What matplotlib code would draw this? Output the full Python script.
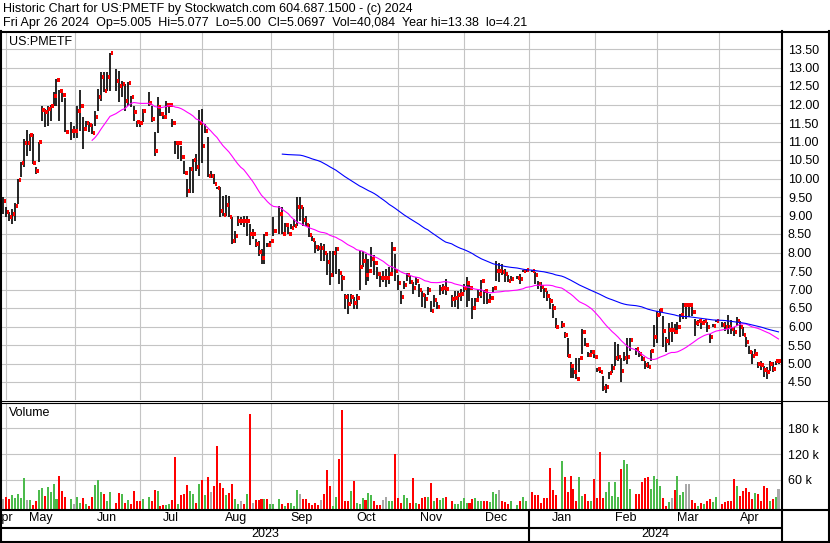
import numpy as np
import pandas as pd
import matplotlib
matplotlib.use("Agg")
import matplotlib.pyplot as plt
import matplotlib.ticker as ticker
from matplotlib.lines import Line2D

plt.rcParams["font.family"] = ["Liberation Sans", "DejaVu Sans"]

TITLE = "Historic Chart for US:PMETF by Stockwatch.com 604.687.1500 - (c) 2024"
SUBTITLE = ("Fri Apr 26 2024  Op=5.005  Hi=5.077  Lo=5.00  Cl=5.0697  "
            "Vol=40,084  Year hi=13.38  lo=4.21")
SYMBOL = "US:PMETF"

# Market holidays inside the range (empty slots on the chart).
HOLIDAYS = ["2023-05-29", "2023-06-19", "2023-07-04", "2023-09-04",
            "2023-11-23", "2023-12-25", "2024-01-01", "2024-01-15",
            "2024-02-19", "2024-03-29"]

high = [
    9.50, 9.22,  # Apr 2023
    9.09, 9.18, 9.33, 9.99, 10.44, 11.07, 11.30, 11.20, 11.20, 10.30, 11.00,
    11.97, 11.88, 11.97, 12.00, 12.33, 12.69, 12.39, 12.30, 12.18, 11.52, 11.43,
    11.97, 12.39, 11.65, 11.56, 11.52, 11.47, 11.82, 12.42, 12.87, 12.87, 12.87,
    13.38, 12.96, 12.91, 12.64, 12.55, 12.60, 12.24, 11.97, 11.56, 11.56,
    11.88, 12.33, 11.97, 11.25, 12.19, 12.00, 11.78, 12.10, 12.00, 11.60,
    11.02, 10.97, 10.88, 10.48, 9.98, 10.30, 10.52, 10.66, 11.85, 11.87,
    11.47, 11.13, 10.20, 10.12, 9.76, 9.77, 9.53, 9.55, 9.53, 8.95, 8.59, 8.99,
    8.95, 8.99, 8.99, 8.77, 8.63, 8.36, 8.32, 8.09, 8.50, 8.27, 8.32,
    8.95, 9.26, 9.22, 8.81, 8.77, 8.77, 8.90, 9.49, 9.49, 9.22,
    8.99, 8.77, 8.45, 8.32, 8.20, 8.27, 8.23, 8.00, 8.05, 8.05,
    8.14, 7.56, 7.38, 6.88, 6.88, 6.88, 6.79, 6.88, 8.05, 8.05, 7.96,
    7.83, 8.14, 7.92, 7.60, 7.47, 7.51, 7.56, 7.60, 8.28, 7.96, 7.38,
    6.97, 7.23, 7.44, 7.38, 7.20, 7.35, 7.15, 6.97, 6.88, 7.06, 6.70,
    6.86, 6.66, 7.11, 7.15, 7.29, 6.84, 6.97, 6.97, 7.02, 7.15,
    7.33, 7.20, 6.78, 6.78, 7.00, 7.26, 7.00, 6.92, 6.87, 7.07,
    7.77, 7.72, 7.68, 7.55, 7.39, 7.36, 7.36, 7.41, 7.54, 7.55,
    7.52, 7.46, 7.23, 7.19, 7.05, 6.96, 6.78, 6.60, 6.24, 6.15, 5.86,
    5.70, 5.05, 5.00, 5.14, 5.16, 5.93, 5.70, 5.32, 5.36, 5.30,
    4.89, 4.89, 4.67, 4.44, 4.78, 4.98, 5.59, 5.52, 5.16, 5.30,
    5.68, 5.69, 5.41, 5.35, 5.21, 5.08, 5.03, 5.37, 6.05, 6.43,
    6.47, 6.29, 5.71, 6.09, 6.11, 6.07, 6.11, 6.34, 6.63, 6.63,
    6.63, 6.61, 6.20, 6.18, 6.16, 6.18, 6.11, 5.80, 6.07, 6.18,
    6.11, 6.11, 6.32, 6.18, 6.00, 6.25, 6.16, 5.98, 5.71, 5.48,
    5.35, 5.39, 5.03, 5.08, 4.94, 4.90, 5.06, 5.03, 5.08, 5.077,
]

low = [
    9.05, 8.95,
    8.86, 8.77, 8.86, 9.30, 10.03, 10.30, 10.62, 10.75, 10.39, 10.12, 10.44,
    11.56, 11.40, 11.43, 11.56, 11.97, 11.97, 11.56, 12.06, 11.27, 11.04, 11.10,
    11.10, 11.29, 10.80, 11.33, 11.25, 11.20, 11.43, 11.83, 12.10, 12.33, 12.37,
    12.37, 12.37, 12.06, 12.19, 11.83, 11.97, 11.92, 11.56, 11.38, 11.40,
    11.52, 11.97, 11.52, 10.62, 11.22, 11.68, 11.60, 11.69, 11.78, 11.38,
    10.66, 10.52, 10.48, 10.12, 9.49, 9.62, 9.60, 10.21, 10.07, 10.43,
    11.24, 10.05, 10.02, 9.86, 9.71, 8.95, 8.99, 8.99, 8.95, 8.24, 8.27, 8.72,
    8.75, 8.68, 8.45, 8.20, 8.36, 8.14, 7.91, 7.68, 7.68, 8.14, 8.27,
    8.45, 8.50, 8.50, 8.50, 8.50, 8.63, 8.68, 8.72, 8.86, 8.72,
    8.72, 8.41, 8.32, 8.00, 8.05, 7.77, 7.78, 7.40, 7.11, 7.35,
    7.42, 7.15, 6.97, 6.48, 6.34, 6.61, 6.48, 6.48, 6.99, 7.60, 7.11,
    7.24, 7.60, 7.38, 7.29, 7.06, 7.20, 7.08, 7.15, 7.47, 7.24, 6.99,
    6.61, 7.02, 7.24, 7.15, 6.88, 7.11, 6.79, 6.52, 6.50, 6.84, 6.39,
    6.52, 6.48, 6.84, 6.88, 6.84, 6.52, 6.52, 6.48, 6.70, 6.93,
    6.52, 6.70, 6.20, 6.50, 6.65, 6.78, 6.60, 6.60, 6.65, 6.92,
    7.23, 7.19, 7.40, 7.19, 7.19, 7.24, 7.28, 7.14, 7.46, 7.48,
    7.46, 7.14, 7.01, 6.92, 6.78, 6.69, 6.47, 6.24, 5.97, 5.97, 5.68,
    5.18, 4.62, 4.60, 4.58, 4.76, 5.27, 5.48, 5.18, 5.23, 5.16,
    4.78, 4.73, 4.26, 4.21, 4.58, 4.73, 4.94, 5.07, 4.49, 5.07,
    4.98, 5.35, 5.23, 5.17, 5.06, 4.84, 4.88, 5.06, 5.44, 5.55,
    6.29, 5.44, 5.30, 5.51, 5.57, 5.80, 5.84, 6.11, 6.20, 6.20,
    6.25, 6.29, 5.75, 6.02, 5.93, 6.07, 5.84, 5.55, 5.98, 6.11,
    5.98, 5.89, 5.80, 5.80, 5.73, 6.02, 5.71, 5.73, 5.44, 5.26,
    4.99, 5.21, 4.88, 4.83, 4.64, 4.58, 4.81, 4.76, 4.97, 5.00,
]

close = [
    9.38, 9.09,
    8.95, 9.03, 9.25, 9.97, 10.41, 10.95, 10.95, 11.18, 10.41, 10.21, 11.00,
    11.86, 11.79, 11.89, 11.97, 12.24, 12.67, 12.37, 12.27, 11.27, 11.29, 11.29,
    11.82, 11.97, 11.33, 11.50, 11.45, 11.22, 11.65, 12.19, 12.73, 12.36, 12.73,
    13.38, 12.64, 12.49, 12.55, 12.10, 12.58, 12.21, 11.79, 11.52, 11.49,
    11.82, 12.04, 11.60, 10.73, 11.94, 11.75, 11.67, 11.98, 12.00, 11.49,
    10.95, 10.97, 10.57, 10.14, 9.65, 10.25, 10.50, 10.30, 11.49, 10.88,
    11.29, 10.07, 10.07, 9.86, 9.73, 9.13, 9.02, 9.29, 8.95, 8.32, 8.44, 8.86,
    8.86, 8.84, 8.86, 8.50, 8.50, 8.24, 8.02, 7.84, 8.50, 8.20, 8.32,
    8.59, 9.04, 8.51, 8.75, 8.51, 8.66, 8.72, 9.24, 9.24, 8.87,
    8.75, 8.47, 8.35, 8.16, 8.13, 8.13, 8.00, 7.74, 7.40, 8.00,
    8.10, 7.44, 7.32, 6.81, 6.60, 6.79, 6.63, 6.77, 7.60, 7.78, 7.40,
    7.51, 7.83, 7.71, 7.42, 7.30, 7.30, 7.30, 7.42, 8.10, 7.50, 7.17,
    6.81, 7.13, 7.38, 7.20, 7.04, 7.22, 6.99, 6.84, 6.75, 6.99, 6.41,
    6.72, 6.52, 7.02, 7.04, 7.02, 6.75, 6.77, 6.86, 6.88, 7.04,
    7.17, 7.04, 6.51, 6.72, 6.89, 7.22, 6.96, 6.69, 6.76, 7.04,
    7.50, 7.50, 7.48, 7.43, 7.23, 7.29, 7.32, 7.28, 7.50, 7.52,
    7.50, 7.40, 7.14, 7.07, 6.98, 6.83, 6.68, 6.50, 5.99, 6.05, 5.77,
    5.21, 4.94, 4.76, 4.59, 5.14, 5.84, 5.50, 5.23, 5.32, 5.18,
    4.85, 4.77, 4.35, 4.37, 4.73, 4.89, 5.16, 5.18, 4.80, 5.16,
    5.18, 5.64, 5.39, 5.26, 5.12, 4.97, 4.90, 5.35, 5.71, 6.32,
    6.45, 5.89, 5.62, 5.91, 5.91, 5.84, 6.00, 6.32, 6.59, 6.59,
    6.59, 6.38, 6.10, 6.14, 6.09, 6.14, 6.00, 5.71, 6.02, 6.16,
    6.05, 6.00, 5.98, 5.93, 5.84, 6.14, 6.00, 5.78, 5.57, 5.30,
    5.19, 5.26, 4.99, 4.97, 4.82, 4.76, 5.00, 4.85, 5.07, 5.0697,
]

# Daily volume, thousands of shares
volume_k = [
    16, 21,
    16, 24, 17, 27, 19, 65, 14, 14, 2, 11, 37, 41, 23, 43, 33, 50, 16, 69, 34,
    20, 16, 4,
    20, 7, 19, 3, 0.5, 21, 48, 59, 33, 27, 11, 31, 7, 30, 27, 6, 14, 4, 34, 10, 11,
    16, 21, 10, 37, 34, 0.5, 2, 2, 4, 14, 114, 4, 25, 27, 48, 34, 27, 7, 50, 60,
    25, 67, 31, 47, 140, 53, 41, 25, 30, 51, 16, 4, 10, 5, 27, 213, 7, 14, 14,
    16, 16, 16, 4,
    4, 16, 4, 0.5, 6, 6, 0.5, 37, 27, 16, 16, 6, 2, 6, 2, 14, 27, 83, 45, 0.5,
    20, 109, 223, 11, 11, 34, 58, 7, 3, 19, 14, 30, 25, 11, 2, 2, 14, 21, 11,
    10, 120, 19,
    7, 25, 19, 6, 65, 6, 3, 19, 20, 20, 53, 10, 19, 14, 19, 20, 10, 5, 5, 11, 17,
    6, 7, 16, 17, 11, 10, 10, 10, 8, 31, 27, 37, 11, 8, 3, 11, 2, 10, 21, 11,
    31, 25, 25, 7, 19, 19, 88, 37, 24, 105, 68, 33, 70, 38, 11, 68, 23, 27, 10,
    10, 62,
    19, 125, 17, 31, 55, 23, 55, 20, 85, 106, 96, 38, 27, 27, 55, 65, 68, 39, 70, 62,
    45, 19, 0.5, 8, 19, 37, 70, 25, 33, 50, 50, 14, 7, 0.5, 6, 5, 10, 16, 8, 20,
    5, 8, 10, 11, 62, 46, 23, 34, 41, 31, 16, 29, 27, 11, 46, 41, 10, 16, 20, 40.084,
]

price_ticks = np.arange(4.5, 13.51, 0.5)
volume_ticks = [60000, 120000, 180000]

W, H = 830, 543


def fx(px):
    return px / W


def fy(px):
    return 1 - px / H


dates = pd.bdate_range("2023-04-27", "2024-04-26", freq="C", holidays=HOLIDAYS)
assert len(dates) == len(high) == len(low) == len(close) == len(volume_k)

# x position = weekday slot (holidays leave a gap)
day0 = np.datetime64(dates[0].date())
xpos = np.busday_count(day0, dates.values.astype("datetime64[D]")).astype(float)
XLIM = (-0.34, xpos[-1] + 0.84)

closes = pd.Series(close)
ma_short = closes.rolling(30).mean()
ma_long = closes.rolling(91).mean()

volume = np.array(volume_k) * 1000
prev = np.round(np.r_[np.nan, close[:-1]], 2)
cur = np.round(close, 2)
vol_colors = np.where(cur > prev, "#4cbb4c",
                      np.where(cur < prev, "#ff0000", "#a8a8a8"))

# Month starts -> grid lines and label spans
month_starts = [i for i in range(1, len(dates)) if dates[i].month != dates[i - 1].month]
grid_x = [xpos[i] - 0.9 for i in month_starts]
bounds = [XLIM[0]] + grid_x + [XLIM[1]]
month_names = [dates[0].strftime("%b")] + [dates[i].strftime("%b") for i in month_starts]
jan_idx = [i for i in month_starts if dates[i].month == 1][0]
jan_x = xpos[jan_idx] - 0.9

GRID = "#c4c4c4"
FS = 9.0

fig = plt.figure(figsize=(W / 100, H / 100), dpi=100)
fig.patch.set_facecolor("white")

# ---- price panel
ax = fig.add_axes([fx(2), fy(400), fx(781) - fx(2), fy(32) - fy(400)])
ax.set_xlim(*XLIM)
ax.set_ylim(13.5 - (400 - 49) / 37, 13.5 + (49 - 32) / 37)
for p in price_ticks:
    ax.axhline(p, color=GRID, lw=0.8, zorder=0)
for gx in grid_x:
    ax.axvline(gx, color=GRID, lw=0.8, zorder=0)
ax.vlines(xpos, low, high, colors="black", lw=1.2, zorder=2)
ax.hlines(close, xpos + 0.25, xpos + 1.1, colors="#ff0000", lw=1.5, zorder=3,
          antialiased=False)
ax.plot(xpos, ma_short, color="#ff00ff", lw=0.8, zorder=4)
ax.plot(xpos, ma_long, color="#0000ff", lw=0.8, zorder=4)
ax.yaxis.tick_right()
ax.set_yticks(price_ticks)
ax.yaxis.set_major_formatter(ticker.FormatStrFormatter("%.2f"))
ax.tick_params(axis="y", length=0, pad=5, labelsize=FS)
ax.set_xticks([])
for s in ax.spines.values():
    s.set_visible(False)

# ---- volume panel
axv = fig.add_axes([fx(2), fy(510), fx(781) - fx(2), fy(403) - fy(510)])
axv.set_xlim(*XLIM)
vlo, vhi = -9800, 238800
axv.set_ylim(vlo, vhi)
for v in volume_ticks:
    axv.axhline(v, color=GRID, lw=0.8, zorder=0)
for gx in grid_x:
    axv.axvline(gx, color=GRID, lw=0.8, zorder=0)
axv.bar(xpos, volume - vlo, bottom=vlo, width=0.68, color=vol_colors,
        linewidth=0, zorder=2)
axv.yaxis.tick_right()
axv.set_yticks(volume_ticks)
axv.set_yticklabels([f"{int(v / 1000)} k" for v in volume_ticks])
axv.tick_params(axis="y", length=0, pad=5, labelsize=FS)
axv.set_xticks([])
for s in axv.spines.values():
    s.set_visible(False)

# ---- date rows
axd = fig.add_axes([fx(2), fy(541), fx(781) - fx(2), fy(510) - fy(541)])
axd.set_xlim(*XLIM)
axd.set_ylim(0, 1)
axd.axis("off")
for name, a, b in zip(month_names, bounds[:-1], bounds[1:]):
    axd.text((a + b) / 2, 0.74, name, ha="center", va="center", fontsize=FS,
             clip_on=True)
axd.text((XLIM[0] + jan_x) / 2, 0.22, str(dates[0].year), ha="center",
         va="center", fontsize=FS)
axd.text((jan_x + XLIM[1]) / 2, 0.22, str(dates[-1].year), ha="center",
         va="center", fontsize=FS)
axd.axvline(jan_x, color="black", lw=1.5)

# ---- texts
fig.text(fx(3), fy(9), TITLE, fontsize=FS, va="center")
fig.text(fx(3), fy(23), SUBTITLE, fontsize=FS, va="center")
fig.text(fx(9), fy(42), SYMBOL, fontsize=FS, va="center")
fig.text(fx(9), fy(413), "Volume", fontsize=FS, va="center")

# ---- frame lines (pixel positions)
frame = [
    ((0, 830), (31.5, 31.5), 1.5),
    ((0, 830), (400.5, 400.5), 0.8),
    ((0, 781), (403, 403), 0.8),
    ((0, 830), (510, 510), 1.5),
    ((0, 781), (527.5, 527.5), 1.5),
    ((0, 830), (541.5, 541.5), 1.5),
    ((1, 1), (31, 542), 1.5),
    ((781.5, 781.5), (31, 542), 1.5),
    ((828.5, 828.5), (31, 542), 1.5),
]
for xs, ys, lw in frame:
    fig.add_artist(Line2D([fx(v) for v in xs], [fy(v) for v in ys],
                          color="black", lw=lw, transform=fig.transFigure))

fig.savefig("out.png", dpi=100, facecolor="white")
